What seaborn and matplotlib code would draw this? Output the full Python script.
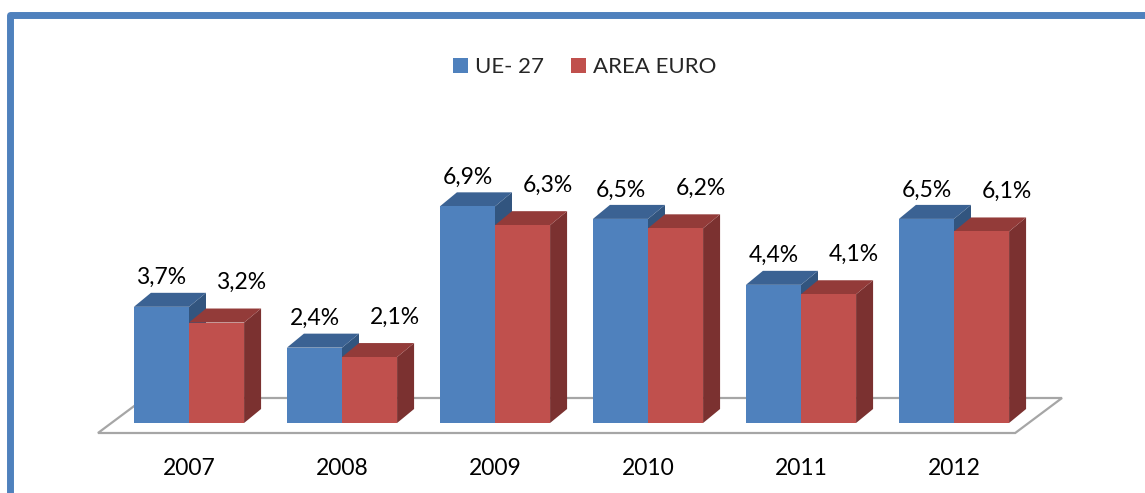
import matplotlib
matplotlib.use("Agg")
import matplotlib.pyplot as plt
from matplotlib.patches import Polygon, Patch
from matplotlib.lines import Line2D
import seaborn as sns
import pandas as pd

years = ["2007", "2008", "2009", "2010", "2011", "2012"]
ue27 = [3.7, 2.4, 6.9, 6.5, 4.4, 6.5]
area_euro = [3.2, 2.1, 6.3, 6.2, 4.1, 6.1]
series_names = ["UE- 27", "AREA EURO"]

BLUE, RED = "#4F81BD", "#C0504D"
BLUE_TOP, BLUE_SIDE = "#3B6293", "#32557F"
RED_TOP, RED_SIDE = "#933B39", "#7B3130"

df = pd.DataFrame({
    "year": years * 2,
    "value": ue27 + area_euro,
    "series": [series_names[0]] * len(years) + [series_names[1]] * len(years),
})

sns.set_theme(style="white")
plt.rcParams["font.family"] = ["Lato", "DejaVu Sans"]

W, H = 1145, 493
fig = plt.figure(figsize=(W / 100, H / 100), dpi=100)
fig.patch.set_facecolor("white")

base_px = 423
px_per_unit = 31.4
ax = fig.add_axes([0, (H - base_px) / H, 1, base_px / H])
ax.patch.set_alpha(0)

sns.barplot(data=df, x="year", y="value", hue="series", palette=[BLUE, RED],
            width=0.72, saturation=1, ax=ax, legend=False, linewidth=0, zorder=3)

spacing = 153.0
x0 = 189.0
ax.set_xlim(-x0 / spacing, (W - x0) / spacing)
ax.set_ylim(0, base_px / px_per_unit)

dx = 17 / spacing
dy = 14 / px_per_unit

# floor
fy_front = -10 / px_per_unit
fy_back = 25 / px_per_unit
floor = Polygon([(-0.595, fy_front), (5.40, fy_front), (5.706, fy_back), (-0.288, fy_back)],
                closed=True, facecolor="white", edgecolor="#A6A6A6", linewidth=1.6,
                zorder=1, clip_on=False)

bars = list(ax.patches)
ax.add_patch(floor)
n = len(years)
for i, p in enumerate(bars):
    is_red = i >= n
    x = p.get_x()
    w = p.get_width()
    h = p.get_height()
    top_c = RED_TOP if is_red else BLUE_TOP
    side_c = RED_SIDE if is_red else BLUE_SIDE
    z = 3.5 if is_red else 2.0
    p.set_zorder(4 if is_red else 3)
    side = Polygon([(x + w, 0), (x + w + dx, dy), (x + w + dx, h + dy), (x + w, h)],
                   closed=True, facecolor=side_c, edgecolor="none", zorder=z)
    top = Polygon([(x, h), (x + dx, h + dy), (x + w + dx, h + dy), (x + w, h)],
                  closed=True, facecolor=top_c, edgecolor="none", zorder=z)
    ax.add_patch(side)
    ax.add_patch(top)
    label = f"{h:.1f}%".replace(".", ",")
    if is_red:
        off = (25 * 0.72, 40 * 0.72)
    else:
        off = (0, 29 * 0.72)
    ax.annotate(label, (x + w / 2, h), xytext=off, textcoords="offset points",
                ha="center", va="center", fontsize=16.5, color="black", zorder=6)

ax.set_xlabel("")
ax.set_ylabel("")
ax.set_yticks([])
ax.tick_params(axis="x", length=0, pad=25, labelsize=16.5, colors="black")
for s in ax.spines.values():
    s.set_visible(False)

# legend
handles = [Patch(facecolor=BLUE, edgecolor="none"), Patch(facecolor=RED, edgecolor="none")]
fig.legend(handles, series_names, loc="center", bbox_to_anchor=(585 / W, 1 - 67 / H),
           ncol=2, frameon=False, fontsize=16, handlelength=0.65, handleheight=0.65,
           handletextpad=0.35, columnspacing=1.2)

# frame (top and left border)
fig.add_artist(Line2D([9.5 / W, 9.5 / W, 1.0], [0.0, 1 - 15 / H, 1 - 15 / H],
                      transform=fig.transFigure, color="#4F81BD", linewidth=5.0,
                      solid_joinstyle="round", solid_capstyle="butt"))

fig.savefig("out.png", dpi=100, facecolor="white")
